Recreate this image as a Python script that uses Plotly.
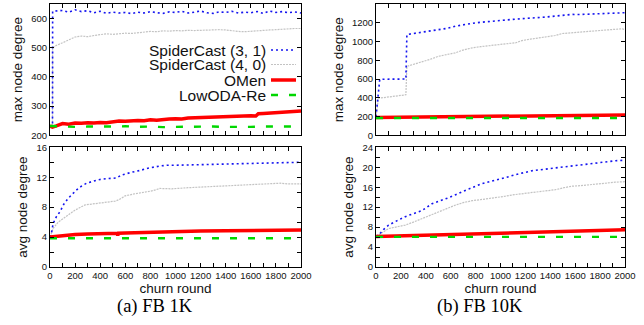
import plotly.graph_objects as go

W, H = 644, 325

# ---------------- data ----------------
series_names = ["SpiderCast (3, 1)", "SpiderCast (4, 0)", "OMen", "LowODA-Re"]
panel_captions = ["(a) FB 1K", "(b) FB 10K"]
x_title = "churn round"
y_title_max = "max node degree"
y_title_avg = "avg node degree"

# FB 1K, max node degree
a_max_sc31_x = [0, 20, 21, 50, 100, 150, 200, 250, 300, 350, 400, 450, 500, 550, 600, 650, 700, 750, 800,
                850, 900, 950, 1000, 1050, 1100, 1150, 1200, 1250, 1300, 1350, 1400, 1450, 1500, 1550,
                1600, 1650, 1700, 1750, 1800, 1850, 1900, 1950, 2000]
a_max_sc31_y = [230, 232, 625, 626, 628, 622, 630, 624, 627, 620, 625, 618, 622, 619, 621, 617, 622, 619, 624,
                620, 618, 623, 621, 625, 619, 622, 626, 620, 618, 623, 621, 625, 619, 622,
                620, 624, 618, 626, 621, 624, 620, 623, 619]
a_max_sc40_x = [0, 20, 21, 50, 100, 150, 200, 250, 300, 350, 400, 450, 500, 550, 600, 650, 700, 750, 800,
                850, 900, 950, 1000, 1050, 1100, 1150, 1200, 1250, 1300, 1350, 1400, 1450, 1500, 1550,
                1600, 1650, 1700, 1750, 1800, 1850, 1900, 1950, 2000]
a_max_sc40_y = [230, 232, 500, 508, 517, 527, 537, 540, 538, 542, 545, 548, 546, 549, 550, 549, 552, 554, 556,
                555, 558, 557, 559, 558, 560, 559, 560, 561, 560, 562, 561, 558, 556, 555,
                557, 558, 560, 561, 562, 564, 565, 566, 566]
a_max_omen_x = [0, 20, 50, 100, 150, 200, 250, 300, 350, 400, 450, 500, 550, 600, 650, 700, 750, 800, 850,
                900, 950, 1000, 1050, 1100, 1150, 1200, 1250, 1300, 1350, 1400, 1450, 1500, 1550, 1600,
                1640, 1660, 1700, 1750, 1800, 1850, 1900, 1950, 2000]
a_max_omen_y = [232, 228, 232, 240, 238, 242, 241, 243, 242, 244, 243, 247, 249, 248, 250, 251, 250, 253, 252,
                255, 256, 257, 256, 259, 260, 261, 262, 263, 264, 265, 266, 267, 266, 267,
                266, 274, 275, 276, 277, 278, 279, 281, 283]
a_max_low_x = [0, 100, 200, 300, 400, 500, 600, 700, 800, 900, 1000, 1100, 1200, 1300, 1400, 1500, 1600,
               1700, 1800, 1900, 2000]
a_max_low_y = [232, 230, 229, 230, 229, 230, 231, 229, 230, 228, 229, 230, 229, 230, 229, 228, 229,
               230, 229, 230, 230]

# FB 1K, avg node degree
a_avg_sc31_x = [0, 10, 25, 50, 80, 110, 146, 180, 212, 250, 292, 350, 398, 450, 531, 570, 610, 660, 717,
                780, 876, 930, 1000, 1100, 1200, 1300, 1400, 1500, 1600, 1700, 1800, 1900, 2000]
a_avg_sc31_y = [4.0, 4.4, 5.8, 6.7, 7.4, 8.4, 9.2, 9.8, 10.3, 10.8, 11.2, 11.5, 11.7, 11.8, 11.9, 12.3, 12.5,
                12.7, 12.9, 13.2, 13.5, 13.6, 13.6, 13.65, 13.7, 13.75, 13.8, 13.85, 13.9, 13.9, 13.95,
                14.0, 14.0]
a_avg_sc40_x = [0, 27, 66, 120, 199, 279, 360, 438, 518, 550, 598, 680, 757, 820, 876, 970, 1100, 1222,
                1350, 1488, 1600, 1700, 1833, 1900, 2000]
a_avg_sc40_y = [4.0, 5.2, 6.0, 6.7, 7.6, 8.3, 8.5, 8.6, 8.8, 9.0, 9.5, 9.8, 10.0, 10.2, 10.5, 10.45, 10.6,
                10.7, 10.8, 10.9, 11.0, 11.0, 11.2, 11.1, 11.1]
a_avg_omen_x = [0, 50, 100, 200, 300, 400, 500, 535, 540, 545, 600, 700, 800, 900, 1000, 1200, 1400, 1600,
                1800, 2000]
a_avg_omen_y = [4.0, 4.1, 4.2, 4.35, 4.4, 4.45, 4.5, 4.5, 4.2, 4.52, 4.55, 4.6, 4.7, 4.75, 4.8, 4.82, 4.85,
                4.88, 4.92, 4.95]
a_avg_low_x = [0, 500, 1000, 1500, 2000]
a_avg_low_y = [3.85, 3.85, 3.85, 3.85, 3.85]

# FB 10K, max node degree
b_max_sc31_x = [0, 10, 20, 30, 60, 100, 150, 200, 240, 248, 300, 369, 430, 503, 570, 637, 700, 771, 840,
                905, 970, 1039, 1100, 1173, 1240, 1307, 1370, 1440, 1500, 1574, 1640, 1708, 1780, 1842,
                1920, 2000]
b_max_sc31_y = [200, 350, 500, 595, 598, 600, 597, 602, 600, 1075, 1085, 1100, 1108, 1121, 1140, 1164, 1180,
                1193, 1205, 1214, 1220, 1228, 1236, 1243, 1248, 1254, 1262, 1271, 1280, 1289, 1288, 1290,
                1295, 1300, 1303, 1307]
b_max_sc40_x = [0, 10, 20, 60, 100, 150, 200, 240, 248, 300, 369, 430, 503, 570, 637, 690, 771, 840, 905,
                970, 1039, 1120, 1173, 1240, 1307, 1370, 1440, 1494, 1574, 1640, 1708, 1780, 1842, 1920,
                1976, 2000]
b_max_sc40_y = [200, 300, 396, 402, 410, 418, 425, 432, 735, 755, 778, 808, 843, 862, 879, 905, 932, 945, 957,
                966, 975, 986, 1010, 1025, 1039, 1052, 1064, 1085, 1093, 1098, 1104, 1110, 1118, 1128,
                1136, 1125]
b_max_omen_x = [0, 200, 400, 600, 800, 1000, 1200, 1400, 1600, 1800, 2000]
b_max_omen_y = [190, 192, 197, 200, 203, 205, 207, 209, 212, 215, 217]
b_max_low_x = [0, 500, 1000, 1500, 2000]
b_max_low_y = [185, 185, 185, 185, 185]

# FB 10K, avg node degree
b_avg_sc31_x = [0, 21, 60, 101, 170, 235, 300, 369, 450, 520, 584, 640, 691, 770, 851, 920, 985, 1050,
                1119, 1190, 1253, 1320, 1387, 1450, 1521, 1590, 1655, 1720, 1789, 1860, 1923, 2000]
b_avg_sc31_y = [6.2, 6.4, 7.5, 8.4, 9.3, 10.1, 10.7, 11.3, 12.7, 13.3, 13.9, 14.5, 15.1, 15.9, 16.7, 17.1,
                17.5, 18.0, 18.5, 18.9, 19.3, 19.5, 19.7, 19.9, 20.1, 20.4, 20.6, 20.8, 20.9, 21.1, 21.3,
                21.4]
b_avg_sc40_x = [0, 21, 101, 170, 235, 300, 369, 440, 504, 570, 638, 700, 772, 840, 906, 970, 1040, 1110,
                1173, 1240, 1307, 1370, 1441, 1510, 1575, 1640, 1709, 1780, 1843, 1920, 2000]
b_avg_sc40_y = [6.2, 6.4, 7.7, 8.0, 8.4, 9.0, 9.7, 10.4, 11.1, 11.7, 12.4, 12.9, 13.3, 13.5, 13.7, 13.9,
                14.2, 14.5, 14.7, 15.0, 15.2, 15.3, 15.5, 15.9, 16.2, 16.3, 16.5, 16.7, 16.9, 17.0, 17.1]
b_avg_omen_x = [0, 200, 400, 600, 800, 1000, 1200, 1400, 1600, 1800, 2000]
b_avg_omen_y = [6.1, 6.25, 6.4, 6.55, 6.7, 6.85, 7.0, 7.1, 7.2, 7.35, 7.45]
b_avg_low_x = [0, 500, 1000, 1500, 2000]
b_avg_low_y = [6.05, 6.05, 6.05, 6.05, 6.05]

# ---------------- styles ----------------
styles = [
    dict(color="rgb(20,20,240)", width=1.6, dash="2px,3px"),
    dict(color="rgb(195,195,195)", width=1.2, dash="2px,1px"),
    dict(color="rgb(255,0,0)", width=3.5, dash="solid"),
    dict(color="rgb(0,215,0)", width=2.4, dash="7px,11px"),
]

panels = [
    ("x", "y", [(a_max_sc31_x, a_max_sc31_y), (a_max_sc40_x, a_max_sc40_y),
                (a_max_omen_x, a_max_omen_y), (a_max_low_x, a_max_low_y)]),
    ("x2", "y2", [(a_avg_sc31_x, a_avg_sc31_y), (a_avg_sc40_x, a_avg_sc40_y),
                  (a_avg_omen_x, a_avg_omen_y), (a_avg_low_x, a_avg_low_y)]),
    ("x3", "y3", [(b_max_sc31_x, b_max_sc31_y), (b_max_sc40_x, b_max_sc40_y),
                  (b_max_omen_x, b_max_omen_y), (b_max_low_x, b_max_low_y)]),
    ("x4", "y4", [(b_avg_sc31_x, b_avg_sc31_y), (b_avg_sc40_x, b_avg_sc40_y),
                  (b_avg_omen_x, b_avg_omen_y), (b_avg_low_x, b_avg_low_y)]),
]

fig = go.Figure()
for xa, ya, data in panels:
    for i in [1, 0, 2, 3]:
        xs, ys = data[i]
        fig.add_trace(go.Scatter(x=xs, y=ys, xaxis=xa, yaxis=ya, mode="lines",
                                 name=series_names[i], showlegend=False,
                                 line=styles[i], hoverinfo="skip"))

FONT = "Liberation Sans, Arial, sans-serif"
SERIF = "Liberation Serif, Times New Roman, serif"
tickfont = dict(family=FONT, size=9.5, color="#111")
titlefont = dict(family=FONT, size=13.5, color="#111")


def px_x(p):
    return p / W


def px_y(p):
    return 1 - p / H


dom_left = [px_x(50), px_x(301)]
dom_right = [px_x(376), px_x(625)]
dom_top = [px_y(135.3), px_y(4)]
dom_bot = [px_y(267), px_y(147.3)]

common = dict(showline=True, linecolor="black", linewidth=1, mirror="ticks", ticks="inside",
              ticklen=4, tickcolor="black", tickwidth=1, showgrid=False, zeroline=False,
              tickfont=tickfont, automargin=False)


def xaxis(domain, anchor, labels):
    d = dict(common, domain=domain, anchor=anchor, range=[0, 2000])
    if labels:
        d.update(dtick=200, tick0=0, showticklabels=True,
                 minor=dict(dtick=100, ticks="inside", ticklen=4, tickcolor="black", showgrid=False),
                 title=dict(text=x_title, font=titlefont, standoff=1))
    else:
        d.update(dtick=100, tick0=0, showticklabels=False)
    return d


def yaxis(domain, anchor, rng, dtick, minor, title):
    d = dict(common, domain=domain, anchor=anchor, range=rng, dtick=dtick, tick0=0,
             title=dict(text=title, font=titlefont, standoff=5))
    if minor:
        d["minor"] = dict(dtick=minor, ticks="inside", ticklen=4, tickcolor="black", showgrid=False)
    return d


fig.update_layout(
    width=W, height=H,
    margin=dict(l=0, r=0, t=0, b=0),
    paper_bgcolor="white", plot_bgcolor="white",
    showlegend=False,
    font=dict(family=FONT),
    xaxis=xaxis(dom_left, "y", False),
    yaxis=yaxis(dom_top, "x", [200, 650], 100, None, y_title_max),
    xaxis2=xaxis(dom_left, "y2", True),
    yaxis2=yaxis(dom_bot, "x2", [0, 16], 4, 2, y_title_avg),
    xaxis3=xaxis(dom_right, "y3", False),
    yaxis3=yaxis(dom_top, "x3", [0, 1400], 200, None, y_title_max),
    xaxis4=xaxis(dom_right, "y4", True),
    yaxis4=yaxis(dom_bot, "x4", [0, 24], 4, 2, y_title_avg),
)

# legend (gnuplot style: text right-aligned, sample to the right)
leg_rows = [50, 64.5, 80, 95]
for i, name in enumerate(series_names):
    fig.add_annotation(x=px_x(267), y=px_y(leg_rows[i]), xref="paper", yref="paper",
                       text=name, showarrow=False, xanchor="right", yanchor="middle",
                       borderpad=0,
                       font=dict(family=FONT, size=15.5, color="#111"))
    fig.add_shape(type="line", xref="paper", yref="paper",
                  x0=px_x(271), x1=px_x(296), y0=px_y(leg_rows[i]), y1=px_y(leg_rows[i]),
                  line=styles[i])

# captions
for cx, cap in zip([155, 480], panel_captions):
    fig.add_annotation(x=px_x(cx), y=px_y(306), xref="paper", yref="paper", text=cap,
                       showarrow=False, xanchor="center", yanchor="middle", borderpad=0,
                       font=dict(family=SERIF, size=18.5, color="black"))

fig.write_html("out.html", config={"displayModeBar": False},
               post_script="document.body.style.margin='0';document.body.style.overflow='hidden';")
